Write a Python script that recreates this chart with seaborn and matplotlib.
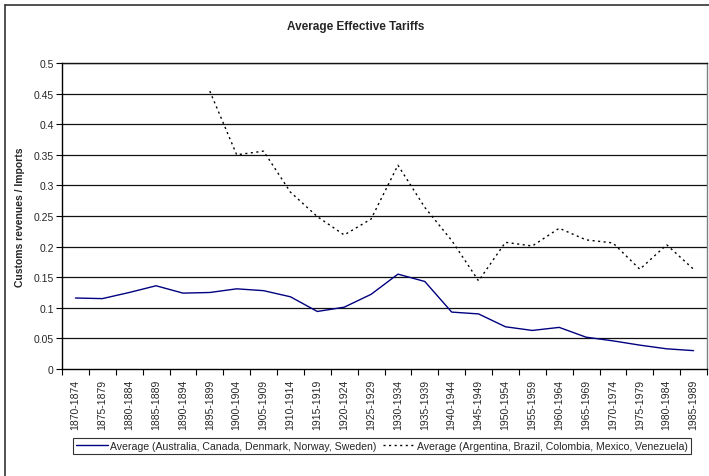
import numpy as np
import pandas as pd
import matplotlib
matplotlib.use("Agg")
import matplotlib.pyplot as plt
from matplotlib.lines import Line2D
from matplotlib.ticker import FuncFormatter, FixedLocator
import seaborn as sns

periods = [
    "1870-1874", "1875-1879", "1880-1884", "1885-1889", "1890-1894", "1895-1899",
    "1900-1904", "1905-1909", "1910-1914", "1915-1919", "1920-1924", "1925-1929",
    "1930-1934", "1935-1939", "1940-1944", "1945-1949", "1950-1954", "1955-1959",
    "1960-1964", "1965-1969", "1970-1974", "1975-1979", "1980-1984", "1985-1989",
]
core_avg = [
    0.116, 0.115, 0.125, 0.136, 0.124, 0.125, 0.131, 0.128, 0.118, 0.094, 0.101, 0.122,
    0.155, 0.143, 0.093, 0.090, 0.069, 0.063, 0.068, 0.052, 0.046, 0.039, 0.033, 0.030,
]
periphery_avg = [
    np.nan, np.nan, np.nan, np.nan, np.nan, 0.454, 0.350, 0.356, 0.289, 0.249, 0.219, 0.245,
    0.333, 0.264, 0.210, 0.144, 0.207, 0.201, 0.230, 0.211, 0.206, 0.163, 0.203, 0.163,
]
core_label = "Average (Australia, Canada, Denmark, Norway, Sweden)"
periphery_label = "Average (Argentina, Brazil, Colombia, Mexico, Venezuela)"

sns.set_theme(style="white")
plt.rcParams["font.family"] = ["Liberation Sans", "DejaVu Sans"]

df = pd.DataFrame({"period": periods, "core": core_avg, "periphery": periphery_avg})
df["pos"] = np.arange(len(periods))

fig = plt.figure(figsize=(7.09, 4.77), dpi=100)
ax = fig.add_axes([62 / 709, 107 / 477, 645 / 709, 306 / 477])

# horizontal gridlines drawn under the series
for v in np.arange(0.05, 0.5001, 0.05):
    ax.axhline(v, color="#111111", lw=0.9, zorder=0)

sns.lineplot(data=df, x="pos", y="core", ax=ax, color="#000080", lw=1.0,
             label=core_label, legend=False)
per = df.dropna(subset=["periphery"])
sns.lineplot(data=per, x="pos", y="periphery", ax=ax, color="black", lw=1.0,
             linestyle=(0, (1.5, 2.5)), label=periphery_label, legend=False)

ax.set_xlim(-0.5, len(periods) - 0.5)
ax.set_ylim(0, 0.5)
ax.set_xticks(np.arange(len(periods)))
ax.set_xticklabels(periods, rotation=90, fontsize=7.5)
ax.xaxis.set_minor_locator(FixedLocator(np.arange(-0.5, len(periods), 1.0)))
ax.tick_params(axis="x", which="major", length=0, pad=7)
ax.tick_params(axis="x", which="minor", length=4, width=0.8, color="black", direction="out",
               bottom=True)
ax.set_yticks(np.arange(0, 0.5001, 0.05))
ax.yaxis.set_major_formatter(FuncFormatter(lambda v, p: f"{round(v, 2):g}"))
ax.tick_params(axis="y", length=4, width=0.8, color="black", direction="out", labelsize=7.5,
               left=True, pad=2)
ax.set_xlabel("")
ax.set_ylabel("Customs revenues / Imports", fontsize=7.5, fontweight="bold", labelpad=6)

for side in ["left", "bottom"]:
    ax.spines[side].set_color("black")
    ax.spines[side].set_linewidth(1.0)
ax.spines["top"].set_color("#111111")
ax.spines["top"].set_linewidth(1.0)
ax.spines["right"].set_color("#808080")
ax.spines["right"].set_linewidth(1.0)

fig.text(356 / 709, 1 - 27 / 477, "Average Effective Tariffs", ha="center", va="center",
         fontsize=8.5, fontweight="bold")

handles, labels = ax.get_legend_handles_labels()
leg = fig.legend(handles, labels, loc="center", bbox_to_anchor=(382 / 709, 1 - 447 / 477),
                 ncol=2, fontsize=7.6, frameon=True, fancybox=False, handlelength=3.0,
                 handletextpad=0.2, columnspacing=0.6, borderpad=0.3, borderaxespad=0)
leg.get_frame().set_edgecolor("black")
leg.get_frame().set_linewidth(0.8)

# chart-area frame (left and top edges)
fig.add_artist(Line2D([4.5 / 709, 4.5 / 709], [0, 1 - 5.5 / 477], color="#333333", lw=1.2,
                      transform=fig.transFigure))
fig.add_artist(Line2D([4.5 / 709, 1], [1 - 5.5 / 477, 1 - 5.5 / 477], color="#333333", lw=1.2,
                      transform=fig.transFigure))

fig.savefig("out.png", dpi=100)
